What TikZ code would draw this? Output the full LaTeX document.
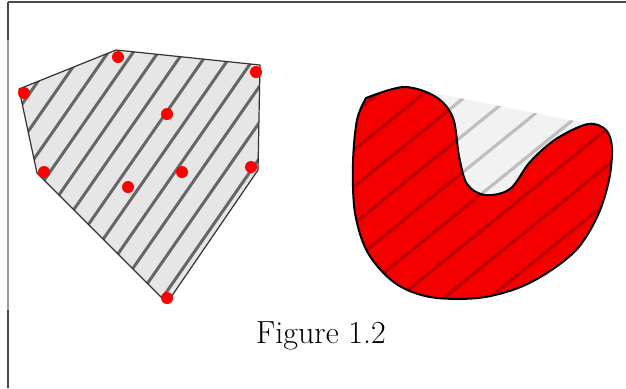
\documentclass[tikz,border=0pt]{standalone}
\usetikzlibrary{calc}
\definecolor{framedark}{HTML}{4A4A4A}
\definecolor{framelight}{HTML}{9A9A9A}
\definecolor{polyfill}{HTML}{E6E6E6}
\definecolor{polyhatch}{HTML}{666666}
\definecolor{polyedge}{HTML}{3A3030}
\definecolor{dotred}{HTML}{FF0000}
\definecolor{blobred}{HTML}{F40000}
\definecolor{blobhatch}{HTML}{BF0000}
\definecolor{hullfill}{HTML}{F2F2F2}
\definecolor{hullhatch}{HTML}{BFBFBF}
\tikzset{
  framedarkline/.style={draw=framedark, line width=0.75pt},
  framelightline/.style={draw=framelight, line width=0.75pt},
  polyhatchline/.style={draw=polyhatch, line width=1.5pt},
  polyborder/.style={draw=polyedge, line width=0.6pt, line join=round},
  ptdot/.style={fill=dotred},
  blobhatchline/.style={draw=blobhatch, line width=1.6pt},
  hullhatchline/.style={draw=hullhatch, line width=1.6pt},
  blobborder/.style={draw=black, line width=1pt, line join=round},
  captionstyle/.style={font=\fontsize{16}{19}\selectfont, anchor=base, inner sep=0pt}
}
\begin{document}
\begin{tikzpicture}[x=0.5pt,y=-0.5pt]
\useasboundingbox (0,0) rectangle (626,388);
% frame
\draw[framedarkline] (8,2) -- (626,2);
\draw[framedarkline] (8,2) -- (8,40);
\draw[framelightline] (8,40) -- (8,310);
\draw[framedarkline] (8,310) -- (8,388);
% ---------- left polygon ----------
\coordinate (v1) at (19,89);
\coordinate (v2) at (116,50);
\coordinate (v3) at (260,65);
\coordinate (v4) at (258,170);
\coordinate (v5) at (167,303);
\coordinate (v6) at (37,173);
\fill[polyfill] (v1) -- (v2) -- (v3) -- (v4) -- (v5) -- (v6) -- cycle;
\begin{scope}
  \clip (v1) -- (v2) -- (v3) -- (v4) -- (v5) -- (v6) -- cycle;
  \foreach \k in {-4,...,12} {
    \draw[polyhatchline] ({75+25*\k-320*0.571},{100+320*0.821}) -- ({75+25*\k+320*0.571},{100-320*0.821});
  }
\end{scope}
\draw[polyborder] (v1) -- (v2) -- (v3) -- (v4) -- (v5) -- (v6) -- cycle;
\foreach \p in {(24,93),(118,57),(256,72),(251,167),(44,172),(167,298),(167,114),(182,172),(128,187)} {
  \fill[ptdot] \p circle[radius=3pt];
}
% ---------- right blob ----------
\coordinate (b1) at (366,98);
\coordinate (b2) at (404,87);
\coordinate (b3) at (436,97);
\coordinate (b4) at (453,118);
\coordinate (b5) at (459,156);
\coordinate (b6) at (467,184);
\coordinate (b7) at (485,195);
\coordinate (b8) at (510,189);
\coordinate (b9) at (530,162);
\coordinate (b10) at (556,139);
\coordinate (b11) at (588,124);
\coordinate (b12) at (606,130);
\coordinate (b13) at (612,148);
\coordinate (b14) at (609,180);
\coordinate (b15) at (598,215);
\coordinate (b16) at (578,248);
\coordinate (b17) at (550,271);
\coordinate (b18) at (518,288);
\coordinate (b19) at (478,298);
\coordinate (b20) at (430,297);
\coordinate (b21) at (395,283);
\coordinate (b22) at (368,253);
\coordinate (b23) at (355,213);
\coordinate (b24) at (353,163);
\coordinate (b25) at (357,120);
% hull part over the notch
\coordinate (h1) at (407,87.5);
\coordinate (h2) at (592,124.5);
\coordinate (h3) at (570,170);
\coordinate (h4) at (480,200);
\coordinate (h5) at (440,150);
\fill[hullfill] (h1) -- (h2) -- (h3) -- (h4) -- (h5) -- cycle;
\begin{scope}
  \clip (h1) -- (h2) -- (h3) -- (h4) -- (h5) -- cycle;
  \foreach \k in {-6,...,6} {
    \draw[hullhatchline] ({480+17.99*\k-300*0.777},{158.3+22.22*\k+300*0.629}) -- ({480+17.99*\k+300*0.777},{158.3+22.22*\k-300*0.629});
  }
\end{scope}
\fill[blobred] plot[smooth, tension=0.55] coordinates {(b1) (b2) (b3) (b4) (b5) (b6) (b7) (b8) (b9) (b10) (b11) (b12) (b13) (b14) (b15) (b16) (b17) (b18) (b19) (b20) (b21) (b22) (b23) (b24) (b25) (b1)} -- cycle;
\begin{scope}
  \clip plot[smooth, tension=0.55] coordinates {(b1) (b2) (b3) (b4) (b5) (b6) (b7) (b8) (b9) (b10) (b11) (b12) (b13) (b14) (b15) (b16) (b17) (b18) (b19) (b20) (b21) (b22) (b23) (b24) (b25) (b1)} -- cycle;
  \foreach \k in {-6,...,6} {
    \draw[blobhatchline] ({480+17.99*\k-300*0.777},{158.3+22.22*\k+300*0.629}) -- ({480+17.99*\k+300*0.777},{158.3+22.22*\k-300*0.629});
  }
\end{scope}
\draw[blobborder] plot[smooth, tension=0.55] coordinates {(b1) (b2) (b3) (b4) (b5) (b6) (b7) (b8) (b9) (b10) (b11) (b12) (b13) (b14) (b15) (b16) (b17) (b18) (b19) (b20) (b21) (b22) (b23) (b24) (b25) (b1)} -- cycle;
% caption
\node[captionstyle] (cap) at (321,343) {Figure 1.2};
\end{tikzpicture}
\end{document}
